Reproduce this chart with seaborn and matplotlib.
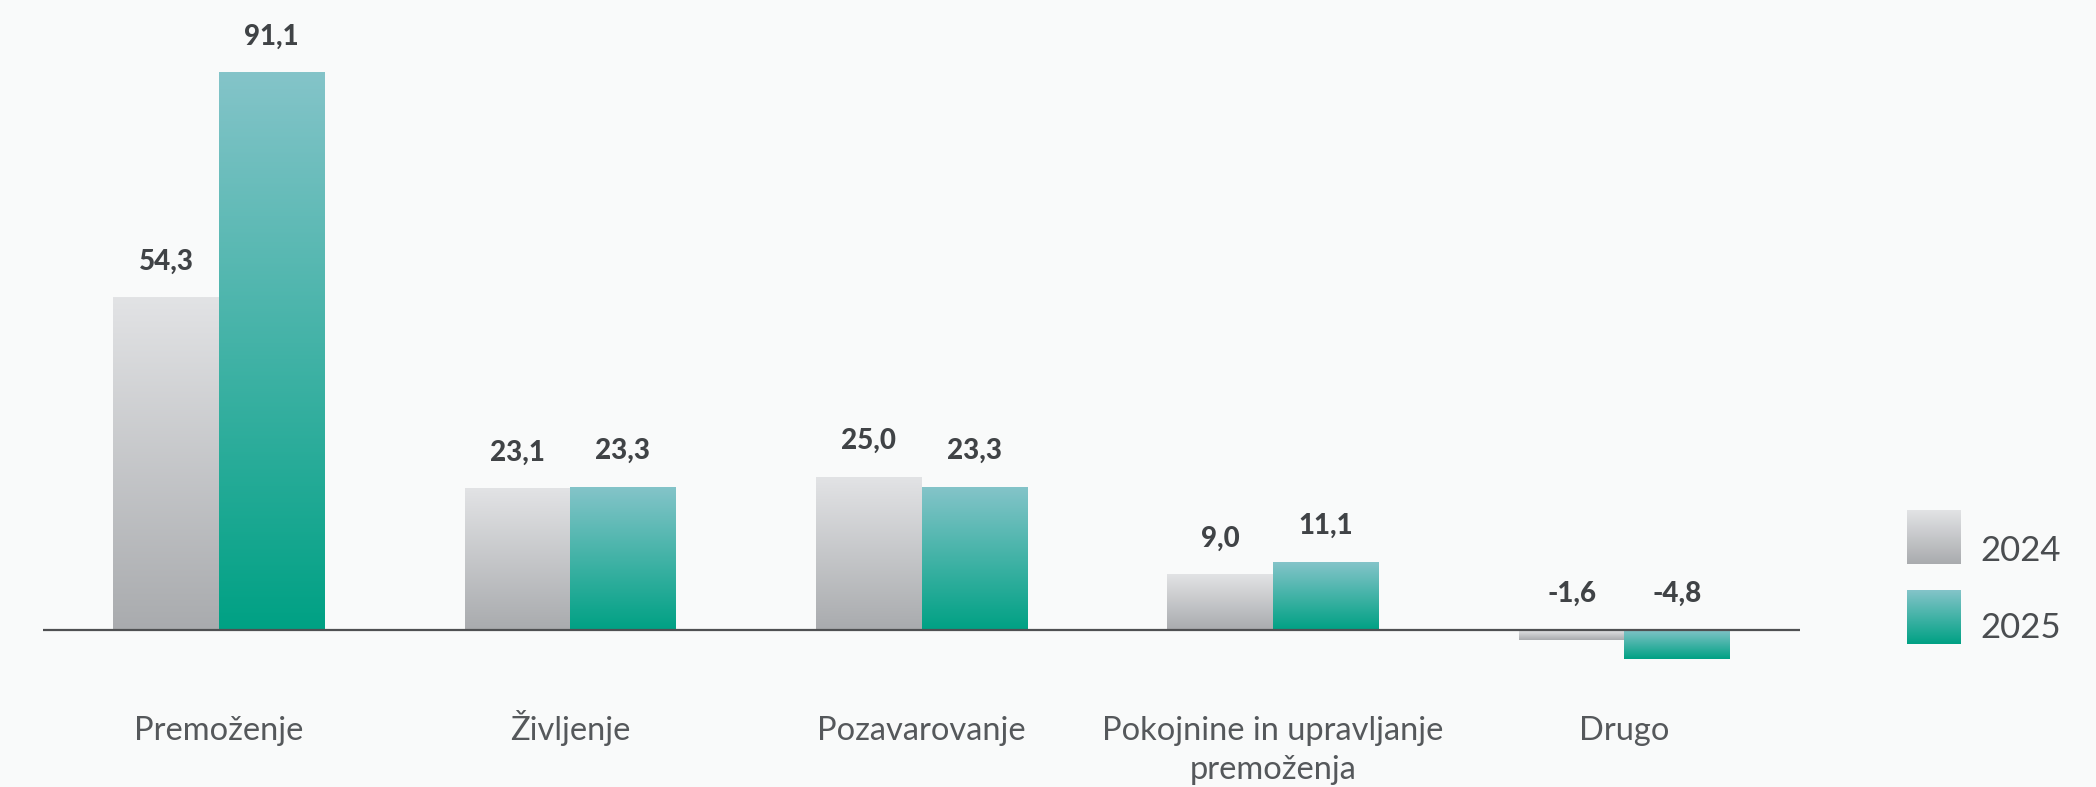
import numpy as np
import pandas as pd
import matplotlib
matplotlib.use('Agg')
import matplotlib.pyplot as plt
from matplotlib.colors import to_rgb
import seaborn as sns

# chart data
categories = ['Premoženje', 'Življenje', 'Pozavarovanje',
              'Pokojnine in upravljanje\npremoženja', 'Drugo']
years = ['2024', '2025']
values_2024 = [54.3, 23.1, 25.0, 9.0, -1.6]
values_2025 = [91.1, 23.3, 23.3, 11.1, -4.8]

# gradient colours (top, bottom) for each year
grad_2024 = ('#e2e3e5', '#a9abae')
grad_2025 = ('#84c4c9', '#00a184')
bg = '#f9fafa'

df = pd.DataFrame({
    'category': categories * 2,
    'year': [years[0]] * len(categories) + [years[1]] * len(categories),
    'value': values_2024 + values_2025,
})

sns.set_theme(style='white')
plt.rcParams['font.family'] = ['Lato', 'DejaVu Sans']


def gradient(top, bottom, n=256):
    t = np.linspace(0, 1, n)[:, None]
    a = np.array(to_rgb(top))
    b = np.array(to_rgb(bottom))
    return (a + (b - a) * t)[:, None, :]


fig = plt.figure(figsize=(20.96, 7.87), dpi=100)
fig.patch.set_facecolor(bg)
ax = fig.add_axes([0.0205, 0.122, 0.8383, 0.855])
ax.set_facecolor(bg)

sns.barplot(data=df, x='category', y='value', hue='year', hue_order=years,
            palette=[grad_2024[1], grad_2025[1]], width=0.6, gap=0,
            legend=False, ax=ax)

# paint each bar with a vertical gradient
grads = {years[0]: gradient(*grad_2024), years[1]: gradient(*grad_2025)}
n = len(categories)
for i, patch in enumerate(ax.patches[:2 * n]):
    yr = years[0] if i < n else years[1]
    x0, y0 = patch.get_x(), patch.get_y()
    w, h = patch.get_width(), patch.get_height()
    lo, hi = min(y0, y0 + h), max(y0, y0 + h)
    ax.imshow(grads[yr], extent=[x0, x0 + w, lo, hi], aspect='auto',
              origin='upper', zorder=2, interpolation='bilinear')
    patch.set_alpha(0)
    v = y0 + h
    ax.text(x0 + w / 2, max(v, 0) + 5.9, f'{v:.1f}'.replace('.', ','),
            ha='center', va='center', fontsize=20, fontweight='black',
            color='#404346', zorder=3)

ax.axhline(0, color='#4f5052', lw=1.6, zorder=4)
ax.set_xlim(-0.5, 4.5)
ax.set_ylim(-10, 100)
ax.set_yticks([])
ax.set_xticks([])
ax.set_xlabel('')
ax.set_ylabel('')

# category labels, each line on its own baseline
for i, cat in enumerate(categories):
    for k, line in enumerate(cat.split('\n')):
        ax.text(i, -18.0 - k * 6.4, line, ha='center', va='baseline',
                fontsize=23.5, color='#55585b', clip_on=False)
sns.despine(ax=ax, left=True, bottom=True)

# legend with gradient squares
legend_pos = [(0.2834, 0.2999), (0.1817, 0.2020)]
for yr, (sq_b, txt_y) in zip(years, legend_pos):
    lax = fig.add_axes([0.9098, sq_b, 0.02576, 0.0686])
    lax.imshow(grads[yr], aspect='auto', interpolation='bilinear')
    lax.axis('off')
    fig.text(0.9447, txt_y, yr, fontsize=25, color='#4a4d50',
             ha='left', va='center')

fig.savefig('out.png', dpi=100, facecolor=bg)
